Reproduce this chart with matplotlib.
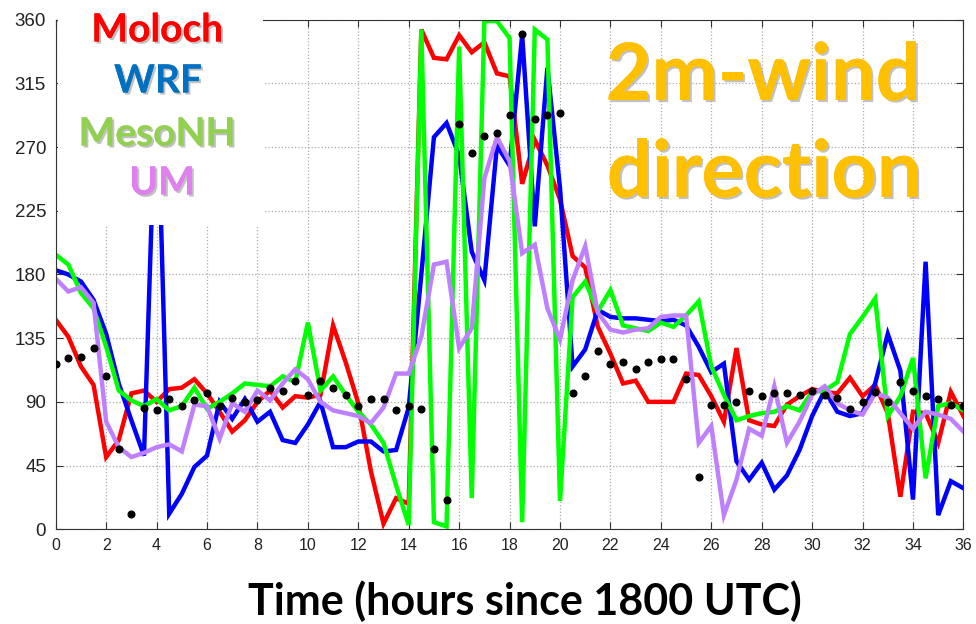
import numpy as np
import matplotlib as mpl
from matplotlib import pyplot as plt
from matplotlib import patheffects as pe
from matplotlib.patches import Rectangle

# forecast hour, every half hour from 1800 UTC
hours = np.arange(0, 36.5, 0.5)

moloch = [148, 136, 115, 102, 51, 63, 96, 98, 90, 99,
          100, 106, 96, 83, 69, 77, 90, 98, 86, 94,
          93, 95, 144, 118, 89, 41, 4, 22, 18, 353,
          333, 332, 349, 337, 344, 322, 320, 244, 275, 257,
          233, 193, 185, 143, 124, 103, 105, 90, 90, 90,
          110, 109, 94, 76, 128, 77, 74, 73, 88, 94,
          99, 97, 96, 107, 94, 102, 82, 23, 83, 82,
          61, 97, 80]

wrf = [183, 180, 175, 162, 138, 103, 77, 52, 330, 11,
       25, 44, 52, 90, 78, 92, 76, 83, 63, 61,
       74, 90, 58, 58, 62, 62, 55, 56, 86, 180,
       277, 287, 264, 196, 176, 271, 257, 349, 214, 326,
       241, 115, 127, 155, 150, 149, 149, 148, 147, 148,
       144, 129, 111, 117, 48, 35, 47, 28, 38, 56,
       80, 98, 83, 80, 82, 103, 138, 112, 21, 189,
       10, 34, 29]

mesonh = [194, 187, 167, 156, 129, 98, 91, 87, 92, 84,
          87, 100, 85, 90, 96, 103, 102, 101, 108, 104,
          146, 98, 108, 95, 83, 74, 61, 31, 3, 353,
          5, 2, 341, 22, 359, 359, 347, 5, 353, 346,
          20, 164, 175, 154, 169, 144, 142, 140, 146, 143,
          151, 161, 115, 95, 77, 80, 82, 83, 87, 84,
          97, 98, 104, 138, 150, 163, 80, 94, 121, 36,
          87, 89, 84]

um = [177, 168, 171, 160, 76, 58, 51, 54, 58, 60,
      55, 88, 87, 64, 89, 83, 98, 91, 103, 113,
      106, 90, 84, 82, 80, 75, 86, 110, 110, 136,
      187, 189, 128, 142, 248, 277, 260, 195, 201, 156,
      134, 176, 200, 153, 141, 139, 141, 142, 150, 151,
      151, 61, 73, 10, 35, 71, 66, 101, 61, 76,
      95, 101, 89, 84, 81, 96, 93, 82, 71, 83,
      81, 78, 69]

obs = [117, 121, 122, 128, 108, 57, 11, 86, 84, 92,
       87, 91, 96, 87, 93, 90, 91, 100, 98, 105,
       95, 105, 100, 95, 87, 92, 92, 84, 87, 85,
       57, 21, 286, 266, 278, 280, 293, 350, 290, 293,
       294, 96, 108, 126, 117, 118, 113, 118, 120, 120,
       106, 37, 88, 88, 90, 98, 94, 96, 96, 95,
       98, 95, 93, 85, 90, 97, 90, 104, 98, 94,
       92, 88, 87]

models = ['Moloch', 'WRF', 'MesoNH', 'UM']
line_colors = ['#ff0000', '#0000ff', '#00ff00', '#bf80ff']
label_colors = ['#ff0000', '#0070c0', '#92d050', '#e080f0']

xticks = np.arange(0, 37, 2)
yticks = np.arange(0, 361, 45)

plt.rcParams['font.family'] = ['Liberation Sans', 'DejaVu Sans']

fig = plt.figure(figsize=(9.76, 6.24), dpi=100)
ax = fig.add_axes([0.0571, 0.1518, 0.930, 0.8167])

for series, c in zip([moloch, wrf, mesonh, um], line_colors):
    ax.plot(hours, series, color=c, lw=3.2, solid_joinstyle='miter')
ax.plot(hours, obs, 'o', color='black', ms=4.8, zorder=4)

ax.set_xlim(0, 36)
ax.set_ylim(0, 360)
ax.set_xticks(xticks)
ax.set_yticks(yticks)
ax.tick_params(direction='in', length=5, top=True, right=True,
               color='#333333', labelcolor='#222222')
ax.tick_params(axis='y', labelsize=13.5, pad=7)
ax.tick_params(axis='x', labelsize=11.5, pad=6)
for lab in ax.get_xticklabels():
    lab.set_family(['Liberation Sans Narrow', 'Liberation Sans'])
for s in ax.spines.values():
    s.set_color('#333333')
ax.grid(True, ls=':', color='#aaaaaa', lw=0.9)

# white panel behind the model names
ax.add_patch(Rectangle((0.08, 215), 8.16, 150, facecolor='white',
                       edgecolor='none', zorder=5, clip_on=False))

shadow = [pe.withSimplePatchShadow(offset=(1.5, -1.5),
                                   shadow_rgbFace='#999999', alpha=0.6),
          pe.Normal()]
name_y = [30, 81, 134, 183]
name_x = [157, 158, 157, 162]
for name, c, px, py in zip(models, label_colors, name_x, name_y):
    fig.text(px / 976, 1 - py / 624, name, color=c, fontsize=28,
             fontweight='bold', family=['Lato', 'DejaVu Sans'],
             ha='center', va='center', zorder=6, path_effects=shadow)

fig.text(763 / 976, 1 - 78 / 624, '2m-wind', color='#ffc000', fontsize=57,
         fontweight='bold', family=['Lato', 'DejaVu Sans'],
         ha='center', va='center', path_effects=shadow)
fig.text(764 / 976, 1 - 175 / 624, 'direction', color='#ffc000', fontsize=57,
         fontweight='bold', family=['Lato', 'DejaVu Sans'],
         ha='center', va='center', path_effects=shadow)

fig.text(525 / 976, 1 - 601 / 624, 'Time (hours since 1800 UTC)',
         color='black', fontsize=31, fontweight='bold',
         family=['Lato', 'DejaVu Sans'], ha='center', va='center')

fig.savefig('out.png', dpi=100)
